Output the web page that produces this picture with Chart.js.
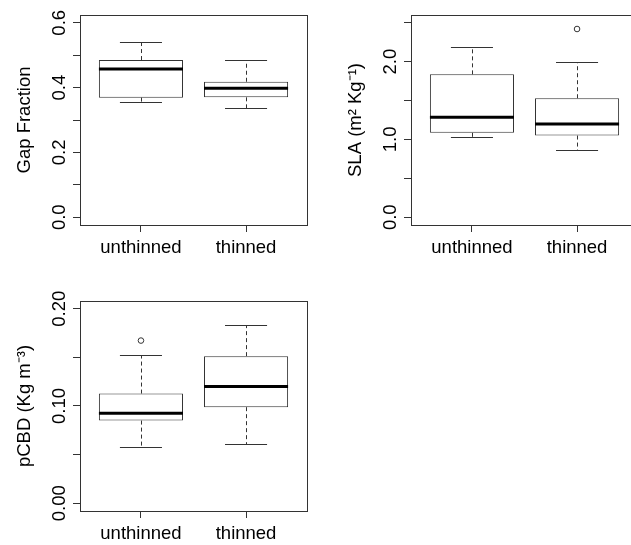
<!DOCTYPE html>
<html>
<head>
<meta charset="utf-8">
<script src="https://cdn.jsdelivr.net/npm/chart.js@4.4.1/dist/chart.umd.min.js"></script>
<style>
  html, body { margin: 0; padding: 0; background: #fff; overflow: hidden; width: 631px; height: 545px; }
  .panel { position: absolute; width: 320px; height: 280px; }
</style>
</head>
<body>
<div class="panel" style="left:0;top:0"><canvas id="gap"></canvas></div>
<div class="panel" style="left:331px;top:0"><canvas id="sla"></canvas></div>
<div class="panel" style="left:0;top:286px"><canvas id="pcbd"></canvas></div>
<script>
// groups on the x axis
const categories = ['unthinned', 'thinned'];

// Gap Fraction five-number summaries
const gapMin = [0.354, 0.338];
const gapQ1 = [0.369, 0.370];
const gapMedian = [0.457, 0.398];
const gapQ3 = [0.485, 0.418];
const gapMax = [0.541, 0.485];
const gapOutliers = [[], []];
const gapTicks = [0, 0.1, 0.2, 0.3, 0.4, 0.5, 0.6];
const gapTickLabels = ['0.0', '', '0.2', '', '0.4', '', '0.6'];

// SLA
const slaMin = [1.033, 0.87];
const slaQ1 = [1.085, 1.05];
const slaMedian = [1.286, 1.20];
const slaQ3 = [1.837, 1.53];
const slaMax = [2.187, 1.99];
const slaOutliers = [[], [2.42]];
const slaTicks = [0, 0.5, 1.0, 1.5, 2.0, 2.5];
const slaTickLabels = ['0.0', '', '1.0', '', '2.0', ''];

// pCBD
const pcbdMin = [0.0576, 0.061];
const pcbdQ1 = [0.085, 0.0988];
const pcbdMedian = [0.0926, 0.120];
const pcbdQ3 = [0.1128, 0.1513];
const pcbdMax = [0.1523, 0.1835];
const pcbdOutliers = [[0.1673], []];
const pcbdTicks = [0, 0.05, 0.10, 0.15, 0.20];
const pcbdTickLabels = ['0.00', '', '0.10', '', '0.20'];

const FONT = { family: '"Liberation Sans", Arial, sans-serif', size: 18.5 };
const LINE = '#333';

// draws whiskers, caps, medians and the frame using the chart scales
function whiskerPlugin(mins, medians, q1s, q3s, maxs) {
    return {
        id: 'whiskers',
        afterDatasetsDraw(chart) {
            const ctx = chart.ctx;
            const xs = chart.scales.x;
            const ys = chart.scales.y;
            const area = chart.chartArea;
            ctx.save();
            categories.forEach((c, i) => {
                const pos = i + 1;
                const xc = Math.round(xs.getPixelForValue(pos)) + 0.5;
                const capL = xs.getPixelForValue(pos - 0.2);
                const capR = xs.getPixelForValue(pos + 0.2);
                const yMin = Math.round(ys.getPixelForValue(mins[i])) + 0.5;
                const yMax = Math.round(ys.getPixelForValue(maxs[i])) + 0.5;
                ctx.strokeStyle = LINE;
                ctx.lineWidth = 1;
                // dashed whiskers
                ctx.setLineDash([4, 3]);
                ctx.beginPath();
                ctx.moveTo(xc, ys.getPixelForValue(q3s[i]));
                ctx.lineTo(xc, yMax);
                ctx.moveTo(xc, ys.getPixelForValue(q1s[i]));
                ctx.lineTo(xc, yMin);
                ctx.stroke();
                // caps
                ctx.setLineDash([]);
                ctx.beginPath();
                ctx.moveTo(capL, yMax);
                ctx.lineTo(capR, yMax);
                ctx.moveTo(capL, yMin);
                ctx.lineTo(capR, yMin);
                ctx.stroke();
                // median
                ctx.strokeStyle = '#000';
                ctx.lineWidth = 3;
                ctx.beginPath();
                const ym = ys.getPixelForValue(medians[i]);
                ctx.moveTo(xs.getPixelForValue(pos - 0.4), ym);
                ctx.lineTo(xs.getPixelForValue(pos + 0.4), ym);
                ctx.stroke();
            });
            // plot frame
            ctx.strokeStyle = LINE;
            ctx.lineWidth = 1;
            ctx.strokeRect(Math.round(area.left) + 0.5, Math.round(area.top) + 0.5,
                Math.round(area.right - area.left), Math.round(area.bottom - area.top));
            ctx.restore();
        }
    };
}

function boxplot(canvasId, cfg) {
    const ctx = document.getElementById(canvasId);
    if (!ctx) return null;

    const boxes = categories.map((c, i) => ({ x: i + 1, y: [cfg.q1[i], cfg.q3[i]] }));
    const outs = [];
    cfg.outliers.forEach((list, i) => list.forEach(v => outs.push({ x: i + 1, y: v })));

    return new Chart(ctx, {
        data: {
            datasets: [{
                type: 'bar',
                data: boxes,
                backgroundColor: '#fff',
                borderColor: LINE,
                borderWidth: 1,
                borderSkipped: false,
                barPercentage: 1,
                categoryPercentage: 0.8
            }, {
                type: 'scatter',
                data: outs,
                pointRadius: 2.8,
                pointBackgroundColor: '#fff',
                pointBorderColor: LINE,
                pointBorderWidth: 1
            }]
        },
        options: {
            responsive: true,
            maintainAspectRatio: false,
            animation: false,
            layout: { padding: { top: 15, right: 13, left: 0, bottom: 0 } },
            plugins: { legend: { display: false }, tooltip: { enabled: false } },
            scales: {
                x: {
                    type: 'linear',
                    min: 0.42,
                    max: 2.58,
                    offset: false,
                    afterBuildTicks: s => { s.ticks = categories.map((c, i) => ({ value: i + 1 })); },
                    afterFit: s => { s.height = 55; },
                    ticks: {
                        callback: (v, i) => categories[i],
                        font: FONT,
                        color: '#000',
                        padding: 5,
                        maxRotation: 0,
                        autoSkip: false
                    },
                    grid: { display: true, offset: false, drawOnChartArea: false, drawTicks: true, tickLength: 7, color: LINE },
                    border: { display: false }
                },
                y: {
                    type: 'linear',
                    min: cfg.yMin,
                    max: cfg.yMax,
                    afterBuildTicks: s => { s.ticks = cfg.ticks.map(v => ({ value: v })); },
                    afterFit: s => { s.width = 80; },
                    ticks: {
                        callback: (v, i) => cfg.tickLabels[i],
                        font: FONT,
                        color: '#000',
                        minRotation: 90,
                        maxRotation: 90,
                        crossAlign: 'center',
                        padding: cfg.tickPad,
                        autoSkip: false
                    },
                    grid: { display: true, drawOnChartArea: false, drawTicks: true, tickLength: 7, color: LINE },
                    border: { display: false },
                    title: { display: true, text: cfg.title, font: FONT, color: '#000', padding: { top: 14, bottom: 0 } }
                }
            }
        },
        plugins: [whiskerPlugin(cfg.min, cfg.median, cfg.q1, cfg.q3, cfg.max)]
    });
}

boxplot('gap', {
    min: gapMin, q1: gapQ1, median: gapMedian, q3: gapQ3, max: gapMax, outliers: gapOutliers,
    yMin: -0.024, yMax: 0.624, ticks: gapTicks, tickLabels: gapTickLabels,
    title: 'Gap Fraction', tickPad: 0
});

boxplot('sla', {
    min: slaMin, q1: slaQ1, median: slaMedian, q3: slaQ3, max: slaMax, outliers: slaOutliers,
    yMin: -0.1, yMax: 2.6, ticks: slaTicks, tickLabels: slaTickLabels,
    title: 'SLA (m² Kg⁻¹)', tickPad: 0
});

boxplot('pcbd', {
    min: pcbdMin, q1: pcbdQ1, median: pcbdMedian, q3: pcbdQ3, max: pcbdMax, outliers: pcbdOutliers,
    yMin: -0.008, yMax: 0.208, ticks: pcbdTicks, tickLabels: pcbdTickLabels,
    title: 'pCBD (Kg m⁻³)', tickPad: -5
});
</script>
</body>
</html>
